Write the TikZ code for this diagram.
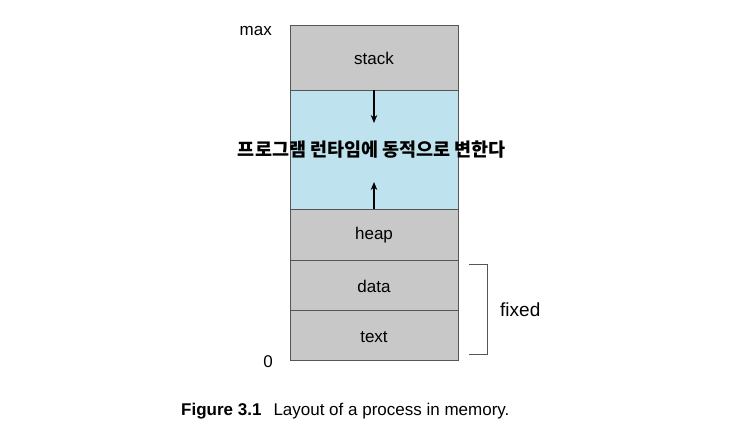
\documentclass[tikz,border=0pt]{standalone}
\usepackage{fontspec}
\setmainfont{Liberation Sans}
\newfontfamily\kr{Noto Sans CJK KR}
\usetikzlibrary{arrows.meta}
\definecolor{segGray}{HTML}{C8C8C8}
\definecolor{segBlue}{HTML}{BEE3EE}
\definecolor{segLine}{HTML}{555555}
\begin{document}
\begin{tikzpicture}[x=1pt,y=-1pt,
  seg/.style={draw=segLine,line width=0.8pt},
  lbl/.style={font=\fontsize{17}{20}\selectfont,inner sep=0pt},
  growarrow/.style={-{Stealth[length=8pt,width=6.5pt]},line width=1.1pt}]
\useasboundingbox (0,0) rectangle (743,444);
\fill[white] (0,0) rectangle (743,444);
\filldraw[seg,fill=segGray] (290,25) rectangle (458,90);
\filldraw[seg,fill=segBlue] (290,90) rectangle (458,209);
\filldraw[seg,fill=segGray] (290,209) rectangle (458,260);
\filldraw[seg,fill=segGray] (290,260) rectangle (458,310);
\filldraw[seg,fill=segGray] (290,310) rectangle (458,360);
\node[lbl] (stack) at (374,58) {stack};
\node[lbl] (heap) at (374,235) {heap};
\node[lbl] (data) at (374,286) {data};
\node[lbl] (text) at (374,337) {text};
\coordinate (s0) at (374,90);
\coordinate (s1) at (374,123);
\coordinate (h0) at (374,209);
\coordinate (h1) at (374,182);
\draw[growarrow] (s0) -- (s1);
\draw[growarrow] (h0) -- (h1);
\node[inner sep=0pt,font=\kr\bfseries\fontsize{18.5}{22}\selectfont] (dyn) at (372,150) {프로그램 런타임에 동적으로 변한다};
\node[lbl,anchor=east] (max) at (272,31) {max};
\node[lbl,anchor=east] (zero) at (273,362) {0};
\coordinate (b1) at (469,264);
\coordinate (b2) at (487,264);
\coordinate (b3) at (487,354);
\coordinate (b4) at (469,354);
\draw[segLine,line width=1pt] (b1) -- (b2) -- (b3) -- (b4);
\node[lbl,anchor=west,font=\fontsize{19}{22}\selectfont] (fixed) at (500,310) {fixed};
\node[lbl,anchor=west] (cap) at (181,411) {\textbf{Figure 3.1}\hspace{12pt}Layout of a process in memory.};
\end{tikzpicture}
\end{document}
